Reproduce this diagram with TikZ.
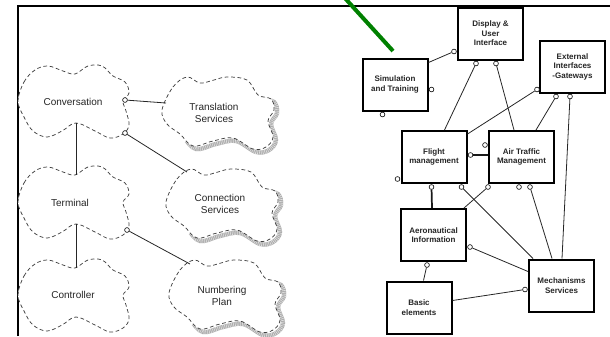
\documentclass[tikz,border=0pt]{standalone}
\usepackage{fontspec}
\setmainfont{Liberation Sans}
\usetikzlibrary{calc}
\definecolor{markgreen}{RGB}{0,128,0}

% wavy outline of the left-hand clouds, centred on the given coordinate
\newcommand\cloudleft[2][]{%
  \draw[cloudline,#1,shift={(#2)}] plot[smooth cycle,tension=0.6] coordinates {
    (-57,0) (-51,-19) (-40,-31) (-27,-35) (-12,-30) (0,-27) (13,-35) (27,-35)
    (38,-25) (50,-19) (54,-8) (48,0) (51,10) (54,24) (48,33) (35,37) (20,30)
    (1,22) (-13,30) (-28,36) (-42,30) (-51,16)};}
% wavy outline of the right-hand clouds
\newcommand\cloudright[2][]{%
  \draw[cloudline,#1,shift={(#2)}] plot[smooth cycle,tension=0.6] coordinates {
    (-56,-3) (-45,-26) (-31,-36) (-18,-30) (-4,-33) (9,-36) (29,-33) (40,-18)
    (53,-14) (56,-3) (50,8) (55,24) (48,34) (35,36) (15,25) (-5,28) (-25,33)
    (-38,21) (-51,11)};}

\begin{document}
\begin{tikzpicture}[x=0.75pt,y=-0.75pt,
  cloudline/.style={draw=black!75, dash pattern=on 2.8pt off 2pt, line width=0.55pt,
    fill=white},
  cloudshade/.style={draw=gray!65, line width=3.2pt, dash pattern=, fill=none},
  cloudhatch/.style={draw=gray!25, line width=3.2pt, dash pattern=on 0.45pt off 0.9pt,
    fill=none},
  cloudtext/.style={inner sep=0pt, align=center, text=black!85,
    font=\fontsize{7.5}{9.6}\selectfont},
  % solid module boxes
  modbox/.style={draw, line width=1.5pt, fill=white, minimum width=48.75pt,
    minimum height=39pt, inner sep=1pt, align=center,
    font=\bfseries\fontsize{6}{7.1}\selectfont, text=black!85},
  port/.style={circle, draw, line width=0.45pt, fill=white, inner sep=0pt,
    minimum size=3.6pt},
  link/.style={draw=black!85, line width=0.6pt},
  heavylink/.style={draw=black!90, line width=1.3pt},
  frameline/.style={draw=black, line width=0.8pt}
]
\useasboundingbox (0,0) rectangle (610,336);

% page frame
\draw[frameline] (18,336) -- (18,6) -- (610,6);

% ---------- left: component clouds ----------
\coordinate (convc)  at (75,101);
\coordinate (termc)  at (75,202);
\coordinate (ctrlc)  at (75,295);
\coordinate (transc) at (218,113);
\coordinate (connc)  at (222,205);
\coordinate (numbc)  at (225,296);

% hatched shadows on the lower right of the service clouds
\foreach \c in {transc,connc,numbc}{
  \begin{scope}[shift={(\c)}]
    \clip (-72,52) -- (78,52) -- (78,-36) -- cycle;
    \cloudright[cloudshade]{3,3}
    \cloudright[cloudhatch]{3,3}
  \end{scope}
}

\cloudleft{convc}
\cloudleft{termc}
\cloudleft{ctrlc}
\cloudright{transc}
\cloudright{connc}
\cloudright{numbc}

\node[cloudtext] (conv)  at ($(convc)+(-2,1)$)  {Conversation};
\node[cloudtext] (term)  at ($(termc)+(-5,1)$)  {Terminal};
\node[cloudtext] (ctrl)  at ($(ctrlc)+(-2,0)$)  {Controller};
\node[cloudtext] (trans) at ($(transc)+(-4,0)$) {Translation\\Services};
\node[cloudtext] (conn)  at ($(connc)+(-2,-1)$) {Connection\\Services};
\node[cloudtext] (numb)  at ($(numbc)+(-3,0)$)  {Numbering\\Plan};

\node[port] (pconvr) at ($(convc)+(50,-1)$) {};
\node[port] (pconvb) at ($(convc)+(50,32)$) {};
\node[port] (ptermr) at ($(termc)+(52,28)$) {};

\draw[link] (pconvr) -- ($(transc)+(-52,-10)$);
\draw[link] (pconvb) -- ($(connc)+(-35,-33)$);
\draw[link] (ptermr) -- ($(numbc)+(-35,-32)$);
\draw[link] ($(convc)+(1,22)$) -- ($(termc)+(1,-27)$);
\draw[link] ($(termc)+(1,22)$) -- ($(ctrlc)+(1,-27)$);

% ---------- right: module boxes ----------
\node[modbox] (disp)   at (490.5,33.5) {Display \&\\User\\Interface};
\node[modbox] (sim)    at (395,84.5)   {Simulation\\and Training};
\node[modbox] (ext)    at (572.5,66.5) {External\\Interfaces\\-Gateways};
\node[modbox] (flight) at (434,157)    {Flight\\management};
\node[modbox] (atm)    at (521.5,157)  {Air Traffic\\Management};
\node[modbox] (aero)   at (433.5,235)  {Aeronautical\\Information};
\node[modbox] (basic)  at (419,307.5)  {Basic\\elements};
\node[modbox] (mech)   at (561.5,285.5){Mechanisms\\Services};

% interface ports
\node[port] (pdispl)  at ($(disp.south west)+(-3,-9)$) {};
\node[port] (pdispb1) at ($(disp.south west)+(19,3)$) {};
\node[port] (pdispb2) at ($(disp.south west)+(39,3)$) {};
\node[port] (psimr)   at ($(sim.north east)+(3,32)$) {};
\node[port] (psimb)   at ($(sim.south west)+(21,3)$) {};
\node[port] (pextl)   at ($(ext.south west)+(-2,-4)$) {};
\node[port] (pextb1)  at ($(ext.south west)+(17,3)$) {};
\node[port] (pextb2)  at ($(ext.south west)+(31,3)$) {};
\node[port] (pflr)    at ($(flight.north east)+(3,25)$) {};
\node[port] (pflbl)   at ($(flight.south west)+(-3,-5)$) {};
\node[port] (pflb1)   at ($(flight.south west)+(31,3)$) {};
\node[port] (pflb2)   at ($(flight.south west)+(61,3)$) {};
\node[port] (patmtl)  at ($(atm.north west)+(-3,15)$) {};
\node[port] (patmb1)  at ($(atm.south west)+(0,3)$) {};
\node[port] (patmb2)  at ($(atm.south west)+(31,3)$) {};
\node[port] (patmb3)  at ($(atm.south west)+(42,3)$) {};
\node[port] (paeror)  at ($(aero.north east)+(3,39)$) {};
\node[port] (paerob)  at ($(aero.south west)+(27,3)$) {};
\node[port] (pmechl)  at ($(mech.north west)+(-3,31)$) {};

% connections
\draw[link] ($(sim.north east)+(0,5)$) -- (pdispl);
\draw[link] (pdispb1) -- ($(flight.north west)+(44,0)$);
\draw[link] (pdispb2) -- ($(atm.north west)+(26,0)$);
\draw[link] (pextl) -- ($(flight.north east)+(0,4)$);
\draw[link] (pextb1) -- ($(atm.north west)+(48,0)$);
\draw[link] (pextb2) -- ($(mech.north west)+(34,0)$);
\draw[heavylink] (pflr) -- ($(atm.north west)+(0,25)$);
\draw[heavylink] (pflb1) -- ($(aero.north west)+(32,0)$);
\draw[link] (pflb2) -- ($(mech.north west)+(5,0)$);
\draw[link] (patmb1) -- ($(aero.north east)+(-3,0)$);
\draw[link] (patmb3) -- ($(mech.north west)+(24,0)$);
\draw[link] (paeror) -- ($(mech.north west)+(0,13)$);
\draw[link] (paerob) -- ($(basic.north west)+(38,0)$);
\draw[link] ($(basic.north east)+(0,20)$) -- (pmechl);

% green pointer stroke
\draw[markgreen, line width=3pt] (343,-4) -- (393,51);
\end{tikzpicture}
\end{document}
